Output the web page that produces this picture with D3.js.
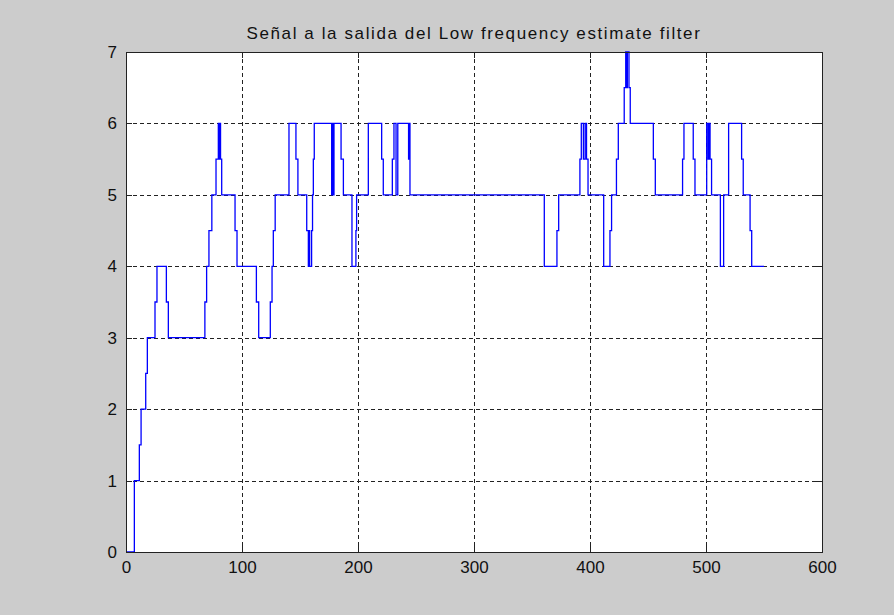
<!DOCTYPE html>
<html>
<head>
<meta charset="utf-8">
<script src="https://cdn.jsdelivr.net/npm/d3@7/dist/d3.min.js"></script>
<style>
  html, body { margin: 0; padding: 0; background: #cccccc; }
  svg { display: block; }
  text { font-family: "Liberation Sans", Arial, sans-serif; fill: #111; }
</style>
</head>
<body>
<svg id="chart" width="894" height="615"></svg>
<script>
// Output of the low frequency estimate filter: sample index where the level changes, and the new level
const stepX = [
  0, 7.2, 11.5, 13, 17, 18.4, 25, 26.7, 34.8, 36.5,
  68, 69.5, 71.5, 74, 77.6, 79.6, 80.3, 80.8, 81.5, 82.5,
  94, 95.7, 112.4, 114.4, 124.4, 125.9, 127, 128.6, 140.5, 146.5,
  148.2, 155.8, 157.2, 157.8, 158.3, 160, 160.8, 161.5, 162.3, 177.3,
  178, 178.6, 179.3, 185.4, 187.4, 194.8, 198.2, 198.8, 208.9, 220.4,
  221.8, 229.6, 231, 232.8, 234.3, 243.6, 244.3, 244.8, 360.6, 371.5,
  373, 391.3, 392.5, 394.3, 395.8, 397, 398.3, 411.8, 417.2, 418.6,
  422.8, 424.4, 429.5, 430.8, 431.6, 432.2, 433.6, 434.7, 454.6, 456.3,
  479.8, 481, 489, 490.5, 500.6, 501.8, 502.4, 503.5, 504.8, 512.4,
  515.2, 519.5, 530.7, 532.1, 538, 539.4
];
const stepLevel = [
  0, 1, 1.5, 2, 2.5, 3, 3.5, 4, 3.5, 3,
  3.5, 4, 4.5, 5, 5.5, 6, 5.5, 6, 5.5, 5,
  4.5, 4, 3.5, 3, 3.5, 4, 4.5, 5, 6, 5.5,
  5, 4.5, 4, 4.5, 4, 4.5, 5, 5.5, 6, 5,
  6, 5, 6, 5.5, 5, 4, 4.5, 5, 6, 5.5,
  5, 5.5, 6, 5, 6, 5.5, 6, 5, 4, 4.5,
  5, 5.5, 6, 5.5, 6, 5.5, 5, 4, 4.5, 5,
  5.5, 6, 6.5, 7, 6.5, 7, 6.5, 6, 5.5, 5,
  5.5, 6, 5.5, 5, 6, 5.5, 6, 5.5, 5, 4,
  5, 6, 5.5, 5, 4.5, 4
];
const lastSample = 550;

const xTickValues = [0, 100, 200, 300, 400, 500, 600];
const yTickValues = [0, 1, 2, 3, 4, 5, 6, 7];
const titleText = "Señal a la salida del Low frequency estimate filter";

const plot = { left: 126, top: 52, right: 822, bottom: 552 };

const svg = d3.select("#chart");

const x = d3.scaleLinear().domain([0, 600]).range([plot.left, plot.right]);
const y = d3.scaleLinear().domain([0, 7]).range([plot.bottom, plot.top]);

// axes background
svg.append("rect")
  .attr("x", plot.left).attr("y", plot.top)
  .attr("width", plot.right - plot.left).attr("height", plot.bottom - plot.top)
  .attr("fill", "#ffffff");

// dotted grid
const grid = svg.append("g").attr("stroke", "#222").attr("stroke-width", 1)
  .attr("stroke-dasharray", "4,3").attr("shape-rendering", "crispEdges");
grid.selectAll("line.gx").data(xTickValues.filter(v => v > 0 && v < 600)).join("line")
  .attr("class", "gx")
  .attr("x1", d => Math.round(x(d)) + 0.5).attr("x2", d => Math.round(x(d)) + 0.5)
  .attr("y1", plot.top).attr("y2", plot.bottom);
grid.selectAll("line.gy").data(yTickValues.filter(v => v > 0 && v < 7)).join("line")
  .attr("class", "gy")
  .attr("y1", d => Math.round(y(d)) + 0.5).attr("y2", d => Math.round(y(d)) + 0.5)
  .attr("x1", plot.left).attr("x2", plot.right);

// signal as a stair plot
const pts = stepX.map((v, i) => [v, stepLevel[i]]);
pts.push([lastSample, stepLevel[stepLevel.length - 1]]);
const line = d3.line()
  .x(d => x(d[0]))
  .y(d => y(d[1]))
  .curve(d3.curveStepAfter);
svg.append("path")
  .datum(pts)
  .attr("d", line)
  .attr("fill", "none")
  .attr("stroke", "#0000ff")
  .attr("stroke-width", 1.3);

// axes with inward ticks, labels on bottom and left
const tickLen = 6;
const fmt = d3.format("d");
const xAxis = d3.axisBottom(x).tickValues(xTickValues).tickFormat(fmt).tickSizeInner(-tickLen).tickSizeOuter(0).tickPadding(9);
const yAxis = d3.axisLeft(y).tickValues(yTickValues).tickFormat(fmt).tickSizeInner(-tickLen).tickSizeOuter(0).tickPadding(9);
const xTop = d3.axisTop(x).tickValues(xTickValues).tickSizeInner(-tickLen).tickSizeOuter(0).tickFormat("");
const yRight = d3.axisRight(y).tickValues(yTickValues).tickSizeInner(-tickLen).tickSizeOuter(0).tickFormat("");

function style(g) {
  g.select(".domain").remove();
  g.selectAll(".tick line").attr("stroke", "#222").attr("shape-rendering", "crispEdges");
  g.selectAll(".tick text").attr("fill", "#111").style("font-size", "17px")
    .style("font-family", "'Liberation Sans', Arial, sans-serif");
}

svg.append("g").attr("transform", `translate(0,${plot.bottom})`).call(xAxis).call(style);
svg.append("g").attr("transform", `translate(${plot.left},0)`).call(yAxis).call(style);
svg.append("g").attr("transform", `translate(0,${plot.top})`).call(xTop).call(style);
svg.append("g").attr("transform", `translate(${plot.right},0)`).call(yRight).call(style);

// axes box
svg.append("rect")
  .attr("x", plot.left + 0.5).attr("y", plot.top + 0.5)
  .attr("width", plot.right - plot.left).attr("height", plot.bottom - plot.top)
  .attr("fill", "none").attr("stroke", "#222").attr("stroke-width", 1)
  .attr("shape-rendering", "crispEdges");

// title
svg.append("text")
  .attr("x", (plot.left + plot.right) / 2)
  .attr("y", 39)
  .attr("text-anchor", "middle")
  .style("font-size", "17px")
  .style("letter-spacing", "1.6px")
  .text(titleText);
</script>
</body>
</html>
